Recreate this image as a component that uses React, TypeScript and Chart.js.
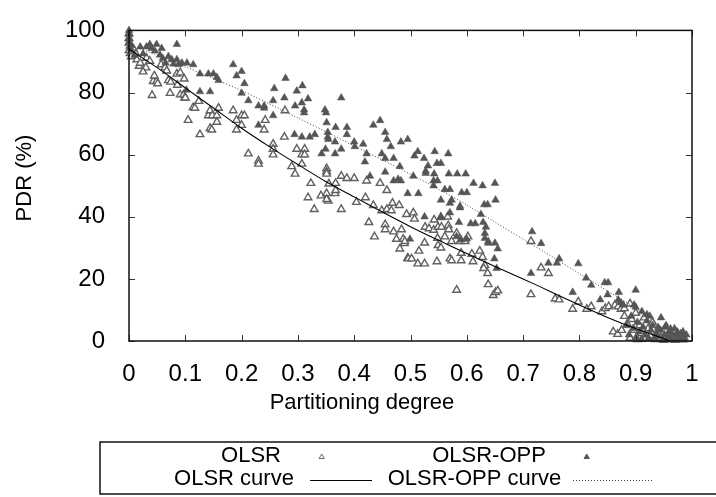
import React, { useEffect, useRef } from "react";
import { Chart, registerables } from "chart.js";

Chart.register(...registerables);

// ---- data ----
const xTicks = [0, 0.1, 0.2, 0.3, 0.4, 0.5, 0.6, 0.7, 0.8, 0.9, 1];
const xTickLabels = ["0", "0.1", "0.2", "0.3", "0.4", "0.5", "0.6", "0.7", "0.8", "0.9", "1"];
const yTicks = [0, 20, 40, 60, 80, 100];

const seriesNames = ["OLSR", "OLSR-OPP", "OLSR curve", "OLSR-OPP curve"];

// OLSR (hollow triangles) [partitioning degree, PDR %]
const olsrPoints: [number, number][] = [
  [0, 99], [0, 97.5], [0, 96], [0.002, 95], [0, 93.6], [0.002, 92.6], [0.004, 91.6], [0.008, 94],
  [0.012, 92.5], [0.014, 90.6], [0.018, 88.5], [0.02, 89.5], [0.03, 88], [0.031, 91.1], [0.037, 90.1],
  [0.025, 86.7], [0.041, 79.1], [0.043, 83.6], [0.049, 83.6], [0.051, 82.9], [0.045, 85.4], [0.057, 89],
  [0.064, 88], [0.067, 87], [0.07, 83.9], [0.074, 83.4], [0.073, 79.8], [0.085, 86], [0.091, 86.4],
  [0.086, 82.4], [0.091, 79.3], [0.097, 79.3], [0.099, 78.3], [0.098, 84.4], [0.1, 78.3], [0.114, 75.2],
  [0.117, 75], [0.124, 77.2], [0.105, 71.1], [0.126, 66.5], [0.141, 72.6], [0.144, 74.2], [0.148, 72.6],
  [0.144, 68.5], [0.156, 72.6], [0.159, 75], [0.156, 70.5], [0.147, 68], [0.185, 74.2], [0.191, 71.1],
  [0.2, 72.6], [0.205, 72.6], [0.2, 69.5], [0.191, 68],
  [0.242, 71.1], [0.24, 68], [0.277, 74.2], [0.276, 65.7], [0.256, 63.4], [0.256, 61.8], [0.256, 60],
  [0.212, 60.3], [0.23, 58], [0.23, 57], [0.298, 61.8], [0.312, 61.8], [0.307, 60], [0.312, 60],
  [0.307, 57], [0.289, 56.2], [0.295, 53.8], [0.323, 50.8], [0.351, 55.5], [0.351, 54.5], [0.351, 53.8],
  [0.367, 50.8], [0.377, 53.1], [0.387, 52.4], [0.4, 52.4], [0.422, 51.6], [0.446, 50.8],
  [0.355, 50.6], [0.318, 46.2], [0.341, 46.8], [0.351, 47.5], [0.354, 45.1], [0.351, 45.6], [0.366, 47.5],
  [0.367, 48.5], [0.329, 42.4], [0.377, 42.4], [0.404, 44.7], [0.42, 46.2], [0.434, 43.7], [0.426, 38.2],
  [0.436, 33.6], [0.449, 42], [0.458, 42.4], [0.466, 42], [0.468, 44.4], [0.48, 43.7], [0.458, 48.5],
  [0.455, 37.5], [0.455, 35.9], [0.47, 35.2], [0.484, 35.9], [0.475, 32.8], [0.487, 32.8], [0.489, 31.4],
  [0.481, 29.7], [0.493, 40.8], [0.495, 26.7],
  [0.505, 41.3], [0.507, 39.3], [0.49, 32.1], [0.515, 29], [0.526, 36.7], [0.533, 36.2], [0.541, 35.7],
  [0.549, 36.7], [0.555, 36.7], [0.567, 37.2], [0.568, 35.9], [0.542, 39], [0.554, 39.8], [0.566, 40],
  [0.496, 26.5], [0.502, 26.5], [0.513, 24.9], [0.525, 24.9], [0.547, 25.6], [0.57, 26.5], [0.573, 25.9],
  [0.59, 25.9], [0.525, 31.6], [0.548, 33.1], [0.549, 30.8], [0.554, 30], [0.561, 33.6], [0.573, 32.1],
  [0.582, 34.7], [0.588, 32.1], [0.597, 32.1], [0.602, 33.6], [0.582, 16.4], [0.59, 28.3], [0.609, 28],
  [0.611, 25.6], [0.623, 29], [0.628, 27], [0.632, 24.4], [0.63, 23.4], [0.637, 21.8], [0.638, 18.2],
  [0.647, 14.7], [0.651, 15.7], [0.655, 16.2], [0.714, 32.1], [0.732, 23.6], [0.745, 21.8], [0.714, 15],
  [0.757, 13.6], [0.764, 13.3], [0.798, 12.6], [0.788, 10.3], [0.813, 10.3], [0.821, 11.1], [0.84, 9.5],
  [0.846, 10.5], [0.852, 11.1], [0.863, 11.6], [0.869, 11.1], [0.874, 10.3],
  [0.86, 3], [0.868, 2.2], [0.875, 3.5], [0.88, 8], [0.885, 5.5], [0.89, 1], [0.893, 7], [0.897, 3.5],
  [0.9, 9], [0.903, 0.5], [0.907, 5], [0.91, 2.5], [0.915, 7.5], [0.918, 0.8], [0.922, 4], [0.926, 1.8],
  [0.93, 6], [0.935, 0.5], [0.94, 2.5], [0.945, 1], [0.95, 0.3], [0.955, 1.5], [0.96, 0.5], [0.965, 1.2],
  [0.97, 0.3], [0.975, 0.8], [0.88, 10.5], [0.89, 12],
];

// OLSR-OPP (filled triangles)
const oppPoints: [number, number][] = [
  [0, 100], [0.0005, 98.8], [0, 97.2], [0.001, 96.2], [0.004, 95.2], [0.003, 94.2], [0.01, 92],
  [0.02, 94.7], [0.025, 92.5], [0.031, 94.7], [0.037, 95.5], [0.049, 95.5], [0.058, 94.2], [0.04, 94.2],
  [0.046, 93.4], [0.055, 92.1], [0.06, 91], [0.065, 89.5], [0.07, 91.6], [0.076, 90.6], [0.085, 95.5],
  [0.085, 90.6], [0.094, 89.5], [0.103, 89.5], [0.114, 89], [0.079, 89.2], [0.088, 89], [0.126, 86],
  [0.141, 86], [0.15, 86], [0.156, 84.9], [0.159, 83.9], [0.126, 80.3], [0.144, 80.3], [0.185, 89],
  [0.191, 85.4], [0.2, 86.8], [0.102, 80.8], [0.205, 82.9], [0.2, 79.8],
  [0.278, 84.6], [0.308, 82.2], [0.258, 81.3], [0.298, 80.5], [0.377, 78.3], [0.276, 78.3], [0.318, 78],
  [0.256, 77.4], [0.212, 77.4], [0.307, 76.7], [0.23, 75.7], [0.24, 75.7], [0.24, 75], [0.295, 75.7],
  [0.311, 74.4], [0.311, 73.5], [0.348, 74.4], [0.35, 73.5], [0.256, 72.6], [0.351, 70.3], [0.23, 69.5],
  [0.367, 68.8], [0.387, 68.8], [0.353, 67.2], [0.434, 69.5], [0.446, 71], [0.294, 66.5], [0.307, 65.7],
  [0.321, 65.7], [0.33, 66.5], [0.387, 66.5], [0.353, 65.7], [0.354, 64.9], [0.366, 64.1], [0.4, 64.1],
  [0.455, 67.2], [0.458, 64.9], [0.483, 64.1], [0.495, 64.9], [0.416, 63.4], [0.401, 62.6], [0.465, 62.6],
  [0.349, 61.8], [0.342, 60.3], [0.377, 61.8], [0.366, 60.3], [0.449, 60.3], [0.422, 60.3], [0.47, 58.8],
  [0.455, 58.8], [0.481, 56.2], [0.419, 57.7], [0.428, 53.1], [0.455, 54.4], [0.47, 51.6], [0.478, 52.1],
  [0.483, 51.6],
  [0.513, 61], [0.507, 59.6], [0.524, 58.8], [0.543, 61], [0.567, 60.3], [0.531, 56.4], [0.547, 57.2],
  [0.554, 57.2], [0.527, 54.7], [0.527, 54], [0.542, 53.8], [0.568, 53.8], [0.583, 53.8], [0.598, 53.8],
  [0.505, 53.1], [0.541, 51.6], [0.548, 51.6], [0.541, 50], [0.612, 50.8], [0.628, 50], [0.65, 50.8],
  [0.495, 47.5], [0.514, 47.5], [0.561, 48.8], [0.57, 48.8], [0.591, 47.8], [0.6, 47.8], [0.651, 45.4],
  [0.554, 45.4], [0.573, 45.4], [0.57, 44.4], [0.588, 43.4], [0.588, 42.9], [0.631, 43.9], [0.637, 43.9],
  [0.57, 41.3], [0.625, 40.8], [0.525, 40], [0.554, 40], [0.586, 38.2], [0.607, 37.8], [0.615, 37.8],
  [0.629, 38.2], [0.634, 36.7], [0.499, 32.8], [0.582, 33.6], [0.59, 32.6], [0.6, 32.8], [0.632, 34.7],
  [0.632, 33.1], [0.638, 32.1], [0.638, 31.5], [0.65, 31.5], [0.655, 29.7], [0.649, 26.5], [0.653, 23.4],
  [0.716, 35.2], [0.732, 31.4], [0.764, 26.5], [0.745, 25.1], [0.76, 25.1], [0.798, 24.9], [0.714, 21.8],
  [0.812, 20.3], [0.821, 18], [0.845, 18.8], [0.851, 18.8], [0.788, 15.7], [0.85, 14.9], [0.87, 15.7],
  [0.9, 16.4], [0.869, 13.3], [0.874, 12.3], [0.878, 11.6], [0.837, 13.3], [0.897, 11.6], [0.9, 10.9],
  [0.911, 9.5], [0.92, 8.5], [0.925, 8], [0.945, 7.5], [0.94, 4.4], [0.952, 4.4], [0.962, 3.9],
  [0.974, 2.9], [0.98, 2.4],
  [0.884, 5], [0.888, 2], [0.892, 8], [0.895, 4], [0.9, 1], [0.903, 6], [0.906, 3], [0.91, 0.5],
  [0.913, 4.5], [0.917, 2], [0.92, 6.5], [0.923, 1], [0.927, 3.5], [0.93, 5], [0.933, 0.8], [0.936, 2.5],
  [0.94, 1.5], [0.944, 3.5], [0.948, 0.5], [0.951, 2], [0.954, 5], [0.957, 1], [0.96, 3], [0.963, 0.5],
  [0.966, 2], [0.969, 4], [0.972, 1], [0.975, 2.5], [0.978, 0.5], [0.981, 1.5], [0.984, 3], [0.987, 1],
  [0.99, 2], [0.985, 0.3],
];

// Fitted curves
const curveX = [0, 0.05, 0.1, 0.15, 0.2, 0.25, 0.3, 0.35, 0.4, 0.45, 0.5, 0.55, 0.6, 0.65, 0.7, 0.75, 0.8, 0.85, 0.9, 0.95, 0.96];
const olsrCurveY = [94, 88, 81.5, 75, 68.5, 62.5, 56.8, 51.3, 46.4, 41.5, 36.8, 32.4, 28.2, 24, 20, 15.8, 11.6, 7.6, 4, 0.8, 0];
const oppCurveX = [0, 0.05, 0.1, 0.15, 0.2, 0.25, 0.3, 0.35, 0.4, 0.45, 0.5, 0.55, 0.6, 0.65, 0.7, 0.75, 0.8, 0.85, 0.9, 0.95, 0.97];
const oppCurveY = [95.5, 92, 88.3, 84.5, 80.6, 76.3, 71.8, 67.4, 62.8, 58.3, 53.7, 48.9, 43.8, 38.3, 32.8, 27.3, 21.7, 16.1, 10.5, 3.5, 0];

const FONT = '"Liberation Sans", Arial, Helvetica, sans-serif';

function tri(ctx: CanvasRenderingContext2D, x: number, y: number, r: number, fill: string, stroke: string) {
  ctx.beginPath();
  ctx.moveTo(x, y - r);
  ctx.lineTo(x + r * 0.866, y + r * 0.5);
  ctx.lineTo(x - r * 0.866, y + r * 0.5);
  ctx.closePath();
  ctx.fillStyle = fill;
  ctx.fill();
  ctx.strokeStyle = stroke;
  ctx.lineWidth = 1;
  ctx.stroke();
}

const framePlugin = {
  id: "frame",
  afterDraw(chart: any) {
    const ctx: CanvasRenderingContext2D = chart.ctx;
    const { left, right, top, bottom } = chart.chartArea;
    const xs = chart.scales.x;
    const ys = chart.scales.y;
    ctx.save();
    // ticks (inward, mirrored)
    ctx.strokeStyle = "#333";
    ctx.lineWidth = 1;
    const tl = 6;
    xTicks.forEach((v) => {
      const px = Math.round(xs.getPixelForValue(v)) + 0.5;
      ctx.beginPath();
      ctx.moveTo(px, bottom);
      ctx.lineTo(px, bottom - tl);
      ctx.moveTo(px, top);
      ctx.lineTo(px, top + tl);
      ctx.stroke();
    });
    yTicks.forEach((v) => {
      const py = Math.round(ys.getPixelForValue(v)) + 0.5;
      ctx.beginPath();
      ctx.moveTo(left, py);
      ctx.lineTo(left + tl, py);
      ctx.moveTo(right, py);
      ctx.lineTo(right - tl, py);
      ctx.stroke();
    });
    // border
    ctx.strokeStyle = "#111";
    ctx.lineWidth = 1.5;
    ctx.strokeRect(left, top, right - left, bottom - top);

    // axis titles
    ctx.fillStyle = "#000";
    ctx.font = `22px ${FONT}`;
    ctx.textAlign = "center";
    ctx.textBaseline = "middle";
    ctx.fillText("Partitioning degree", 362, 403);
    ctx.save();
    ctx.translate(25, 178);
    ctx.rotate(-Math.PI / 2);
    ctx.fillText("PDR (%)", 0, 0);
    ctx.restore();

    // legend box
    ctx.strokeStyle = "#111";
    ctx.lineWidth = 1.5;
    ctx.beginPath();
    ctx.moveTo(716, 442);
    ctx.lineTo(100, 442);
    ctx.lineTo(100, 494);
    ctx.lineTo(716, 494);
    ctx.stroke();

    ctx.fillStyle = "#000";
    ctx.font = `22px ${FONT}`;
    ctx.fillText(seriesNames[0], 251, 456);
    ctx.fillText(seriesNames[1], 489, 456);
    ctx.fillText(seriesNames[2], 234, 479);
    ctx.fillText(seriesNames[3], 474.5, 479);

    tri(ctx, 321.7, 457, 3, "#ffffff", "#666");
    tri(ctx, 586.7, 457, 3, "#575757", "#575757");

    ctx.strokeStyle = "#000";
    ctx.lineWidth = 1;
    ctx.beginPath();
    ctx.moveTo(310, 480.5);
    ctx.lineTo(372, 480.5);
    ctx.stroke();
    ctx.strokeStyle = "#444";
    ctx.setLineDash([1, 2]);
    ctx.beginPath();
    ctx.moveTo(573, 480.5);
    ctx.lineTo(653, 480.5);
    ctx.stroke();
    ctx.setLineDash([]);
    ctx.restore();
  },
};

export default function App() {
  const ref = useRef<HTMLCanvasElement | null>(null);
  useEffect(() => {
    if (!ref.current) return;
    const chart = new Chart(ref.current, {
      type: "scatter",
      data: {
        datasets: [
          {
            label: seriesNames[0],
            data: olsrPoints.map(([x, y]) => ({ x, y })),
            pointStyle: "triangle",
            pointRadius: 4.4,
            pointBackgroundColor: "#ffffff",
            pointBorderColor: "#606060",
            pointBorderWidth: 1.4,
            showLine: false,
            clip: false,
            order: 3,
          } as any,
          {
            label: seriesNames[1],
            data: oppPoints.map(([x, y]) => ({ x, y })),
            pointStyle: "triangle",
            pointRadius: 4.4,
            pointBackgroundColor: "#555555",
            pointBorderColor: "#555555",
            pointBorderWidth: 0.5,
            showLine: false,
            clip: false,
            order: 2,
          } as any,
          {
            label: seriesNames[2],
            data: curveX.map((x, i) => ({ x, y: olsrCurveY[i] })),
            showLine: true,
            borderColor: "#000",
            borderWidth: 1.1,
            pointRadius: 0,
            tension: 0.3,
            order: 1,
          } as any,
          {
            label: seriesNames[3],
            data: oppCurveX.map((x, i) => ({ x, y: oppCurveY[i] })),
            showLine: true,
            borderColor: "#444",
            borderWidth: 1,
            borderDash: [1, 2],
            pointRadius: 0,
            tension: 0.3,
            order: 0,
          } as any,
        ],
      },
      options: {
        animation: false,
        responsive: false,
        devicePixelRatio: 1,
        layout: { padding: { top: 16, right: 24, left: 0, bottom: 0 } },
        plugins: { legend: { display: false }, tooltip: { enabled: false } },
        scales: {
          x: {
            type: "linear",
            min: 0,
            max: 1,
            grid: { display: false },
            border: { display: false },
            afterBuildTicks: (s: any) => {
              s.ticks = xTicks.map((v) => ({ value: v }));
            },
            afterFit: (s: any) => {
              s.height = 156;
            },
            ticks: {
              padding: 11,
              color: "#000",
              font: { family: FONT, size: 24 },
              maxRotation: 0,
              autoSkip: false,
              callback: (_v: any, i: number) => xTickLabels[i],
            },
          },
          y: {
            type: "linear",
            min: 0,
            max: 100,
            grid: { display: false },
            border: { display: false },
            afterBuildTicks: (s: any) => {
              s.ticks = yTicks.map((v) => ({ value: v }));
            },
            afterFit: (s: any) => {
              s.width = 129;
            },
            ticks: {
              padding: 16,
              color: "#000",
              font: { family: FONT, size: 24 },
              autoSkip: false,
              callback: (v: any) => String(v),
            },
          },
        },
      },
      plugins: [framePlugin],
    });
    return () => chart.destroy();
  }, []);
  return (
    <div style={{ position: "absolute", left: 0, top: 0, width: 716, height: 497, background: "#fff" }}>
      <canvas ref={ref} width={716} height={497} style={{ display: "block" }} />
    </div>
  );
}
